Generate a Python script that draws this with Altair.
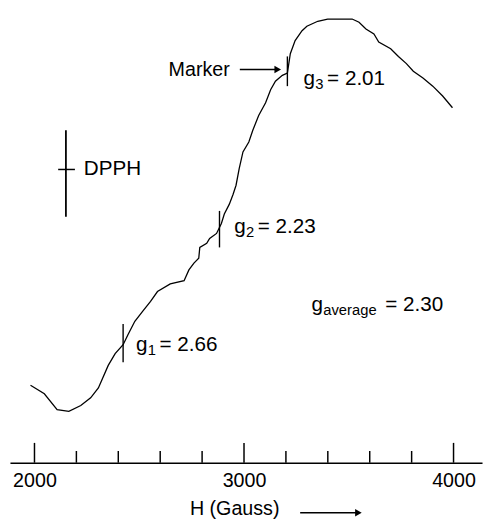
import altair as alt
import pandas as pd

# ---- spectrum (H in gauss, signal in arbitrary units) ----
field_h = [1981, 2047, 2108, 2164, 2221, 2268, 2305, 2352, 2385, 2423,
           2446, 2479, 2516, 2554, 2587, 2648, 2714, 2737, 2761, 2784,
           2789, 2822, 2836, 2869, 2892, 2906, 2930, 2948, 2962, 2977,
           2995, 3023, 3042, 3070, 3103, 3127, 3150, 3183, 3207, 3221,
           3244, 3277, 3300, 3352, 3399, 3516, 3549, 3582, 3620, 3643,
           3700, 3737, 3775, 3808, 3854, 3901, 3948, 3995]
signal = [17.2, 15.3, 11.8, 11.4, 12.7, 14.4, 16.6, 21.6, 24.2, 26.2,
          28.4, 31.4, 33.6, 35.8, 38.0, 39.7, 40.4, 42.8, 44.3, 45.4,
          47.8, 48.7, 49.8, 50.9, 53.1, 55.2, 57.4, 59.6, 61.6, 65.3,
          69.0, 71.2, 73.8, 77.1, 79.9, 82.8, 84.7, 86.0, 86.5, 90.8,
          93.7, 95.9, 96.9, 98.0, 98.5, 98.5, 97.8, 96.3, 95.2, 93.4,
          91.9, 90.2, 88.6, 86.9, 85.4, 83.6, 81.4, 78.8]

# ---- g markers ----
marker_h = [2423, 2883, 3207]
marker_lo = [22.3, 47.8, 83.6]
marker_hi = [30.8, 55.9, 90.2]

g_subs = ["1", "2", "3"]
g_values = ["= 2.66", "= 2.23", "= 2.01"]
g_label_h = [2484, 2953, 3284]
g_label_s = [24.8, 50.9, 83.8]

gavg_h = [3322]
gavg_s = [33.6]
gavg_sub = ["average"]
gavg_value = ["= 2.30"]

# ---- DPPH reference mark ----
dpph_h = [2150]
dpph_lo = [54.6]
dpph_hi = [73.8]
dpph_bar_h = [2113]
dpph_bar_h2 = [2193]
dpph_bar_s = [65.1]
dpph_text_h = [2235]

# ---- "Marker" arrow ----
marker_text_h = [2932]
marker_text_s = [87.1]
marker_arrow_h = [2980]
marker_arrow_h2 = [3150]
marker_head_h = [3161]
marker_arrow_s = [87.3]

# ---- axis arrow ----
axis_arrow_h = [3268]
axis_arrow_h2 = [3535]
axis_head_h = [3546]
axis_arrow_s = [-11.1]

# ---- axis ticks ----
major_ticks = [2000, 3000, 4000]
minor_ticks = [2200, 2400, 2600, 2800, 3200, 3400, 3600, 3800]

FONT = "Liberation Sans"
xs = alt.Scale(domain=[1883, 4136], nice=False, zero=False)
ys = alt.Scale(domain=[0, 100], nice=False, zero=False)

spec_df = pd.DataFrame({"H": field_h, "S": signal})
xaxis = alt.Axis(values=major_ticks, format="d", ticks=False, grid=False,
                 domainColor="black", domainWidth=1.5, labelFont=FONT,
                 labelFontSize=20, labelColor="black", labelPadding=8,
                 labelFlush=False, title="H (Gauss)", titleFont=FONT,
                 titleFontSize=20, titleFontWeight="normal", titleColor="black",
                 titleX=228, titleY=47, titleAlign="center", titleBaseline="middle")

curve = alt.Chart(spec_df).mark_line(color="black", strokeWidth=1.3,
                                     interpolate="linear").encode(
    x=alt.X("H:Q", scale=xs, axis=xaxis),
    y=alt.Y("S:Q", scale=ys, axis=None),
)

mk_df = pd.DataFrame({"H": marker_h, "lo": marker_lo, "hi": marker_hi})
markers = alt.Chart(mk_df).mark_rule(color="black", strokeWidth=1.4).encode(
    x="H:Q", y="lo:Q", y2="hi:Q")

tick_df = pd.DataFrame({"H": major_ticks + minor_ticks,
                        "lo": [0.0] * (len(major_ticks) + len(minor_ticks)),
                        "hi": [4.4] * len(major_ticks) + [2.6] * len(minor_ticks)})
ticks = alt.Chart(tick_df).mark_rule(color="black", strokeWidth=1.5).encode(
    x="H:Q", y="lo:Q", y2="hi:Q")

dv_df = pd.DataFrame({"H": dpph_h, "lo": dpph_lo, "hi": dpph_hi})
dpph_v = alt.Chart(dv_df).mark_rule(color="black", strokeWidth=1.8).encode(
    x="H:Q", y="lo:Q", y2="hi:Q")
dh_df = pd.DataFrame({"H": dpph_bar_h, "H2": dpph_bar_h2, "S": dpph_bar_s})
dpph_h_rule = alt.Chart(dh_df).mark_rule(color="black", strokeWidth=1.5).encode(
    x="H:Q", x2="H2:Q", y="S:Q")
dt_df = pd.DataFrame({"H": dpph_text_h, "S": dpph_bar_s, "t": ["DPPH"]})
dpph_t = alt.Chart(dt_df).mark_text(font=FONT, fontSize=21, align="left",
                                    baseline="middle", color="black").encode(
    x="H:Q", y="S:Q", text="t:N")

# g labels
gb_df = pd.DataFrame({"H": g_label_h + gavg_h, "S": g_label_s + gavg_s,
                      "t": ["g"] * 4})
g_base = alt.Chart(gb_df).mark_text(font=FONT, fontSize=21, align="left",
                                    baseline="alphabetic", color="black").encode(
    x="H:Q", y="S:Q", text="t:N")
gs_df = pd.DataFrame({"H": g_label_h, "S": g_label_s, "t": g_subs})
g_sub = alt.Chart(gs_df).mark_text(font=FONT, fontSize=15, align="left",
                                   baseline="alphabetic", color="black",
                                   dx=12, dy=4).encode(
    x="H:Q", y="S:Q", text="t:N")
gv_df = pd.DataFrame({"H": g_label_h, "S": g_label_s, "t": g_values})
g_val = alt.Chart(gv_df).mark_text(font=FONT, fontSize=21, align="left",
                                   baseline="alphabetic", color="black",
                                   dx=24).encode(
    x="H:Q", y="S:Q", text="t:N")
ga_df = pd.DataFrame({"H": gavg_h, "S": gavg_s, "t": gavg_sub})
ga_sub = alt.Chart(ga_df).mark_text(font=FONT, fontSize=15, align="left",
                                    baseline="alphabetic", color="black",
                                    dx=12, dy=4).encode(
    x="H:Q", y="S:Q", text="t:N")
gav_df = pd.DataFrame({"H": gavg_h, "S": gavg_s, "t": gavg_value})
ga_val = alt.Chart(gav_df).mark_text(font=FONT, fontSize=21, align="left",
                                     baseline="alphabetic", color="black",
                                     dx=75).encode(
    x="H:Q", y="S:Q", text="t:N")

# Marker label + arrow
mt_df = pd.DataFrame({"H": marker_text_h, "S": marker_text_s, "t": ["Marker"]})
mk_text = alt.Chart(mt_df).mark_text(font=FONT, fontSize=20, align="right",
                                     baseline="middle", color="black").encode(
    x="H:Q", y="S:Q", text="t:N")

arrows_df = pd.DataFrame({"H": marker_arrow_h + axis_arrow_h,
                          "H2": marker_arrow_h2 + axis_arrow_h2,
                          "S": marker_arrow_s + axis_arrow_s})
arrow_lines = alt.Chart(arrows_df).mark_rule(color="black", strokeWidth=1.6).encode(
    x="H:Q", x2="H2:Q", y="S:Q")
heads_df = pd.DataFrame({"H": marker_head_h + axis_head_h,
                         "S": marker_arrow_s + axis_arrow_s})
arrow_heads = alt.Chart(heads_df).mark_point(shape="triangle-right", filled=True,
                                             color="black", size=60, opacity=1).encode(
    x="H:Q", y="S:Q")

chart = alt.layer(
    curve, markers, ticks, dpph_v, dpph_h_rule, dpph_t,
    g_base, g_sub, g_val, ga_sub, ga_val, mk_text, arrow_lines, arrow_heads
).properties(
    width=480, height=458,
    autosize=alt.AutoSizeParams(type="none"),
    padding={"left": 2, "top": 0, "right": 2, "bottom": 59},
).configure_view(stroke=None)

chart.save("out.html", embed_options={"renderer": "svg", "actions": False})
